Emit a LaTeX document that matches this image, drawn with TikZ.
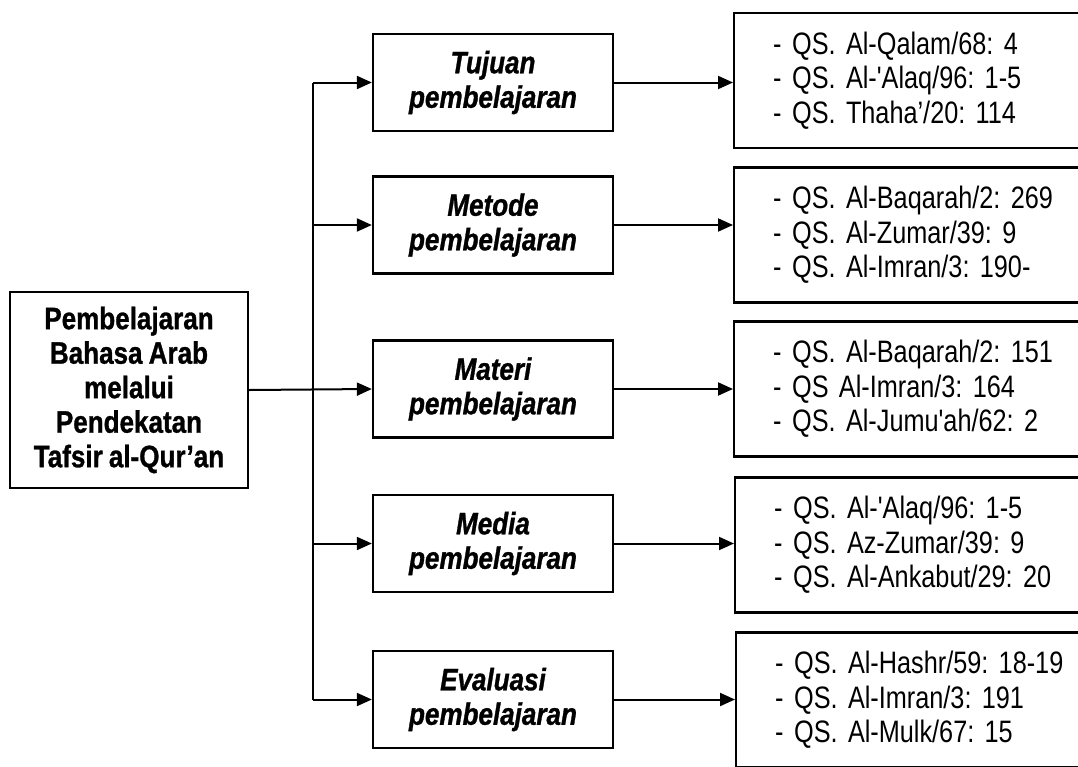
\documentclass[tikz,border=0pt]{standalone}
\usepackage{fontspec}
\newfontfamily\ayatfont[FakeStretch=0.815,WordSpace=0.8]{Liberation Sans}
\newfontfamily\judulfont[FakeStretch=0.84,WordSpace=0.85,BoldFeatures={FakeBold=1},BoldItalicFeatures={FakeBold=1}]{Liberation Sans}
\usetikzlibrary{arrows.meta}
\newcommand{\ayat}[1]{\makebox[19pt][l]{-}#1}
\frenchspacing

\begin{document}
\begin{tikzpicture}[x=1pt,y=-1pt,line width=2pt,
  panah/.style={-{Triangle[length=15pt,width=13pt]}},
  kotak/.style={draw,line width=2.3pt,minimum width=240pt,minimum height=97pt,inner sep=0pt,align=center,
    font=\judulfont\fontsize{31pt}{34.5pt}\selectfont\bfseries\itshape},
  daftar/.style={draw,line width=2.3pt,anchor=west,minimum height=135pt,text width=330pt,inner xsep=39pt,align=left,
    font=\ayatfont\fontsize{31pt}{34.5pt}\selectfont}]
\clip (0,0) rectangle (1078,766);

\node[draw,line width=2.3pt,minimum width=238pt,minimum height=196pt,inner sep=0pt,align=center,
  font=\judulfont\fontsize{31pt}{34.5pt}\selectfont\bfseries] (utama) at (129,390)
  {Pembelajaran\\Bahasa Arab\\melalui\\Pendekatan\\Tafsir al-Qur’an};

\node[kotak] (tujuan) at (493,82.5) {Tujuan\\pembelajaran};
\node[kotak] (metode) at (493,225) {Metode\\pembelajaran};
\node[kotak] (materi) at (493,389) {Materi\\pembelajaran};
\node[kotak] (media) at (493,543.5) {Media\\pembelajaran};
\node[kotak] (evaluasi) at (493,699.5) {Evaluasi\\pembelajaran};

\node[daftar] (ayat1) at (733,80.5) {\ayat{QS. Al-Qalam/68: 4}\\\ayat{QS. Al-'Alaq/96: 1-5}\\\ayat{QS. Thaha’/20: 114}};
\node[daftar] (ayat2) at (733,235) {\ayat{QS. Al-Baqarah/2: 269}\\\ayat{QS. Al-Zumar/39: 9}\\\ayat{QS. Al-Imran/3: 190-}};
\node[daftar] (ayat3) at (733,389) {\ayat{QS. Al-Baqarah/2: 151}\\\ayat{QS Al-Imran/3: 164}\\\ayat{QS. Al-Jumu'ah/62: 2}};
\node[daftar] (ayat4) at (734,545) {\ayat{QS. Al-'Alaq/96: 1-5}\\\ayat{QS. Az-Zumar/39: 9}\\\ayat{QS. Al-Ankabut/29: 20}};
\node[daftar] (ayat5) at (735,700) {\ayat{QS. Al-Hashr/59: 18-19}\\\ayat{QS. Al-Imran/3: 191}\\\ayat{QS. Al-Mulk/67: 15}};

\coordinate (bus) at (313,0);
\draw (tujuan.west -| bus) -- (evaluasi.west -| bus);
\draw[panah] (utama.east) -- (materi.west);

\foreach \k in {tujuan,metode,media,evaluasi}
  \draw[panah] (\k.west -| bus) -- (\k.west);

\draw[panah] (tujuan.east) -- (tujuan.east -| ayat1.west);
\draw[panah] (metode.east) -- (metode.east -| ayat2.west);
\draw[panah] (materi.east) -- (materi.east -| ayat3.west);
\draw[panah] (media.east) -- (media.east -| ayat4.west);
\draw[panah] (evaluasi.east) -- (evaluasi.east -| ayat5.west);
\end{tikzpicture}
\end{document}
